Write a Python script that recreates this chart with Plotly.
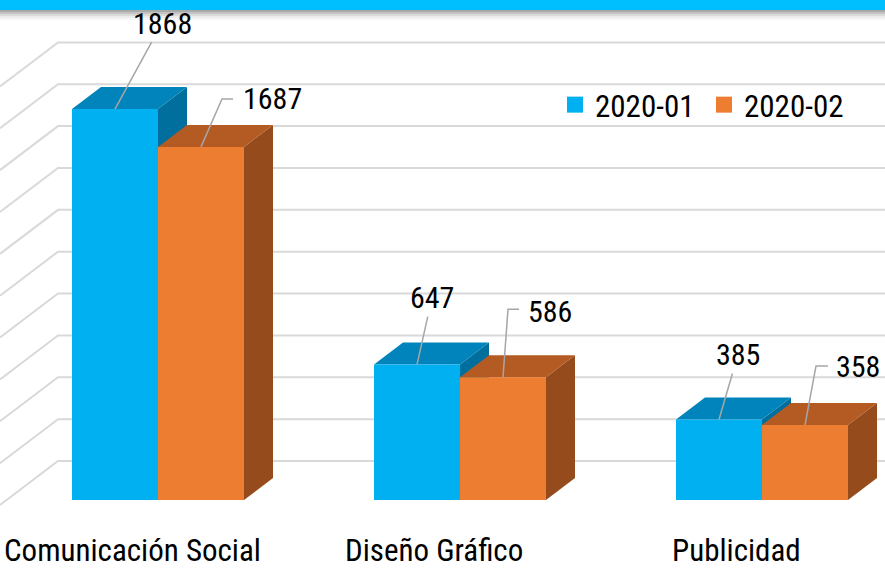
import plotly.graph_objects as go

# ---------------- data ----------------
categories = ["Comunicación Social", "Diseño Gráfico", "Publicidad"]
series_names = ["2020-01", "2020-02"]
values_2020_01 = [1868, 647, 385]
values_2020_02 = [1687, 586, 358]
grid_values = [0, 200, 400, 600, 800, 1000, 1200, 1400, 1600, 1800, 2000]

# ---------------- style / layout constants ----------------
W, H = 885, 571
FONT = "Liberation Sans Narrow, Arial Narrow, Roboto Condensed, Roboto, sans-serif"
front_colors = ["#00B0F0", "#ED7D31"]
top_colors = ["#0084BB", "#B45A23"]
side_colors = ["#006F9D", "#964B1D"]
grid_color = "#D9D9D9"
leader_color = "#A6A6A6"

PX_PER_CAT = 302.0      # pixels between category centres
PX_PER_UNIT = 0.2093    # pixels per value unit
ORIGIN_X = 158.0        # pixel of first category centre
ORIGIN_Y = 500.0        # pixel of value 0 (front)

x_range = [-ORIGIN_X / PX_PER_CAT, (W - ORIGIN_X) / PX_PER_CAT]
y_range = [-(H - ORIGIN_Y) / PX_PER_UNIT, ORIGIN_Y / PX_PER_UNIT]

BW = 86 / PX_PER_CAT                 # bar width (category units)
DX = 29 / PX_PER_CAT                 # bar depth, x
DY = 22 / PX_PER_UNIT                # bar depth, y
WALL_DY = 39 / PX_PER_UNIT           # back wall offset (vertical)
WALL_LEFT = x_range[0] + 58 / PX_PER_CAT
SIDE_DY = 58 * (22 / 29) / PX_PER_UNIT

# label offsets (pixels)
lab1_ax = [47, 15, 19]
lab1_ay = [-86, -67, -65]
lab2_path = [(21, 48, 32), (5, 68, 16), (11, 59, 23)]
lab2_shift = [(71, 48), (47, 66), (53, 59)]

series_values = [values_2020_01, values_2020_02]
xpos = list(range(len(categories)))

fig = go.Figure()

# front faces as bars
for s, (name, vals) in enumerate(zip(series_names, series_values)):
    fig.add_trace(go.Bar(
        x=xpos, y=vals, name=name,
        width=BW, offset=-BW + s * BW,
        marker=dict(color=front_colors[s], line=dict(width=0)),
        showlegend=False, hoverinfo="y+name",
    ))
    # legend entries
    fig.add_trace(go.Scatter(
        x=[None], y=[None], mode="markers", name=name,
        marker=dict(symbol="square", size=17, color=front_colors[s]),
        showlegend=True,
    ))

shapes = []
# banner at top
shapes.append(dict(type="rect", xref="paper", yref="paper", x0=0, x1=1,
                   y0=1 - 10 / H, y1=1, fillcolor="#00BFFF", line=dict(width=0),
                   layer="below"))
for k, c in enumerate(["#A9A9A9", "#C3C3C3", "#DADADA", "#ECECEC", "#F7F7F7"]):
    shapes.append(dict(type="rect", xref="paper", yref="paper", x0=0, x1=1,
                       y0=1 - (12 + 2 * k) / H, y1=1 - (10 + 2 * k) / H,
                       fillcolor=c, line=dict(width=0), layer="below"))

# back-wall gridlines with side-wall diagonals
for g in grid_values:
    yb = g + WALL_DY
    shapes.append(dict(type="path", xref="x", yref="y",
                       path=f"M {x_range[0]},{yb - SIDE_DY} L {WALL_LEFT},{yb} L {x_range[1] + 0.1},{yb}",
                       line=dict(color=grid_color, width=2), layer="below"))

# 3D faces (painter's order)
for i in xpos:
    for s in range(2):
        v = series_values[s][i]
        x0 = i - BW + s * BW
        x1 = x0 + BW
        side = f"M {x1},0 L {x1},{v} L {x1 + DX},{v + DY} L {x1 + DX},{DY} Z"
        top = f"M {x0},{v} L {x1},{v} L {x1 + DX},{v + DY} L {x0 + DX},{v + DY} Z"
        shapes.append(dict(type="path", xref="x", yref="y", path=side,
                           fillcolor=side_colors[s], line=dict(width=0), layer="below"))
        shapes.append(dict(type="path", xref="x", yref="y", path=top,
                           fillcolor=top_colors[s], line=dict(width=0), layer="below"))

annotations = []
# labels for series 1 (straight leaders)
for i in xpos:
    v = values_2020_01[i]
    annotations.append(dict(
        x=i - BW / 2, y=v, xref="x", yref="y", text=str(v),
        showarrow=True, arrowhead=0, arrowwidth=1.5, arrowcolor=leader_color,
        ax=lab1_ax[i], ay=lab1_ay[i], standoff=0,
        font=dict(family=FONT, size=30, color="#000000"),
    ))
# labels for series 2 (bent leaders)
for i in xpos:
    v = values_2020_02[i]
    px1, py1, px2 = lab2_path[i]
    shapes.append(dict(type="path", xref="x", yref="y",
                       xsizemode="pixel", ysizemode="pixel",
                       xanchor=i + BW / 2, yanchor=v,
                       path=f"M 0,0 L {px1},{py1} L {px2},{py1}",
                       line=dict(color=leader_color, width=1.5), layer="above"))
    annotations.append(dict(
        x=i + BW / 2, y=v, xref="x", yref="y", text=str(v), showarrow=False,
        xshift=lab2_shift[i][0], yshift=lab2_shift[i][1],
        font=dict(family=FONT, size=30, color="#000000"),
    ))
# category labels
for i, c in zip(xpos, categories):
    annotations.append(dict(
        x=i, y=0, xref="x", yref="paper", text=c, showarrow=False,
        xanchor="center", yanchor="bottom", xshift=-26, yshift=0,
        font=dict(family=FONT, size=31, color="#000000"),
    ))

fig.update_layout(
    width=W, height=H,
    margin=dict(l=0, r=0, t=0, b=0),
    paper_bgcolor="white", plot_bgcolor="white",
    barmode="overlay",
    xaxis=dict(range=x_range, showgrid=False, zeroline=False, showticklabels=False,
               showline=False, fixedrange=True),
    yaxis=dict(range=y_range, showgrid=False, zeroline=False, showticklabels=False,
               showline=False, fixedrange=True),
    shapes=shapes,
    annotations=annotations,
    showlegend=True,
    legend=dict(orientation="h", x=555 / W, y=1 - 105 / H, xanchor="left", yanchor="middle",
                entrywidth=104, entrywidthmode="pixels",
                font=dict(family=FONT, size=31, color="#000000"),
                bgcolor="rgba(0,0,0,0)", itemclick=False, itemdoubleclick=False),
    font=dict(family=FONT),
)

fig.write_html(
    "out.html",
    config={"displayModeBar": False},
    post_script="document.body.style.margin='0';document.body.style.overflow='hidden';",
)
